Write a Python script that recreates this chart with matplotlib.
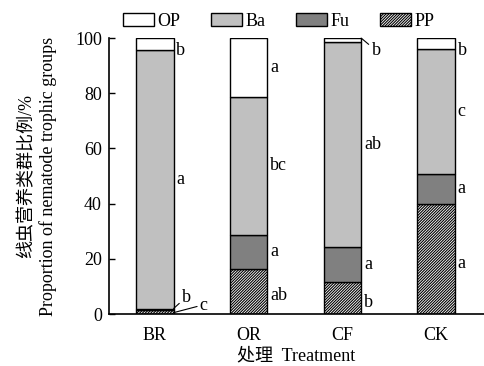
import matplotlib
matplotlib.use("Agg")
import matplotlib.pyplot as plt
from matplotlib.patches import Patch
import numpy as np

plt.rcParams['font.family'] = ['Liberation Serif', 'Noto Sans CJK SC']
plt.rcParams['hatch.linewidth'] = 0.8

treatments = ['BR', 'OR', 'CF', 'CK']
PP = [1.5, 16.2, 11.7, 39.9]
Fu = [0.5, 12.6, 12.5, 10.9]
Ba = [93.5, 50.0, 74.5, 45.3]
OP = [4.5, 21.2, 1.3, 3.9]

letters_OP = ['b', 'a', 'b', 'b']
letters_Ba = ['a', 'bc', 'ab', 'c']
letters_Fu = ['b', 'a', 'a', 'a']
letters_PP = ['c', 'ab', 'b', 'a']

fig = plt.figure(figsize=(4.84, 3.66), dpi=100)
ax = fig.add_axes([0.225, 0.142, 0.775, 0.754])

x = np.arange(len(treatments))
w = 0.4
fs = 13
hatch = '/' * 12

PP_a = np.array(PP); Fu_a = np.array(Fu); Ba_a = np.array(Ba); OP_a = np.array(OP)
b1 = PP_a
b2 = b1 + Fu_a
b3 = b2 + Ba_a

ax.bar(x, PP_a, w, color='white', edgecolor='black', hatch=hatch, linewidth=1)
ax.bar(x, Fu_a, w, bottom=b1, color='#808080', edgecolor='black', linewidth=1)
ax.bar(x, Ba_a, w, bottom=b2, color='#c0c0c0', edgecolor='black', linewidth=1)
ax.bar(x, OP_a, w, bottom=b3, color='white', edgecolor='black', linewidth=1)

tx = w / 2 + 0.03
for i in range(len(treatments)):
    ax.text(x[i] + tx, (b2[i] + b3[i]) / 2, letters_Ba[i], fontsize=fs, va='center', ha='left')
    if i == 2:
        ax.annotate(letters_OP[i], xy=(x[i] + w / 2, 100), xytext=(x[i] + 0.31, 95.5),
                    fontsize=fs, va='center', ha='left',
                    arrowprops=dict(arrowstyle='-', lw=0.8, shrinkA=0, shrinkB=0))
    else:
        ax.text(x[i] + tx, min((b3[i] + 100) / 2, 95.5), letters_OP[i], fontsize=fs, va='center', ha='left')
    if i == 0:
        ax.annotate(letters_Fu[i], xy=(x[i] + w / 2, 2.0), xytext=(x[i] + 0.29, 6.0),
                    fontsize=fs, va='center', ha='left',
                    arrowprops=dict(arrowstyle='-', lw=0.8, shrinkA=0, shrinkB=0,
                                    relpos=(0, 0.3)))
        ax.annotate(letters_PP[i], xy=(x[i] + w / 2, 0.5), xytext=(x[i] + 0.48, 3.0),
                    fontsize=fs, va='center', ha='left',
                    arrowprops=dict(arrowstyle='-', lw=0.8, shrinkA=0, shrinkB=0,
                                    relpos=(0, 0.5)))
    else:
        ax.text(x[i] + tx, (b1[i] + b2[i]) / 2, letters_Fu[i], fontsize=fs, va='center', ha='left')
        ax.text(x[i] + tx, b1[i] / 2 - 1.5, letters_PP[i], fontsize=fs, va='center', ha='left')

ax.set_xlim(-0.49, 3.51)
ax.set_ylim(0, 100)
ax.set_xticks(x)
ax.set_xticklabels(treatments, fontsize=fs)
ax.set_yticks([0, 20, 40, 60, 80, 100])
ax.tick_params(axis='y', direction='in', length=4, labelsize=fs, width=1, pad=5)
ax.tick_params(axis='x', length=0, labelsize=fs, pad=9)
for s in ['top', 'right']:
    ax.spines[s].set_visible(False)
for s in ['left', 'bottom']:
    ax.spines[s].set_linewidth(1.2)

ax.set_ylabel('线虫营养类群比例/%\nProportion of nematode trophic groups', fontsize=fs,
              linespacing=1.3, labelpad=13)
ax.set_xlabel('处理  Treatment', fontsize=fs, labelpad=3)

handles = [
    Patch(facecolor='white', edgecolor='black', label='OP'),
    Patch(facecolor='#c0c0c0', edgecolor='black', label='Ba'),
    Patch(facecolor='#808080', edgecolor='black', label='Fu'),
    Patch(facecolor='white', edgecolor='black', hatch=hatch, label='PP'),
]
fig.legend(handles=handles, loc='upper left', bbox_to_anchor=(0.228, 1.0), ncol=4,
           frameon=False, fontsize=fs, handlelength=1.7, handleheight=0.7,
           handletextpad=0.2, columnspacing=1.7, borderaxespad=0.3)

fig.savefig('out.png', dpi=100)
